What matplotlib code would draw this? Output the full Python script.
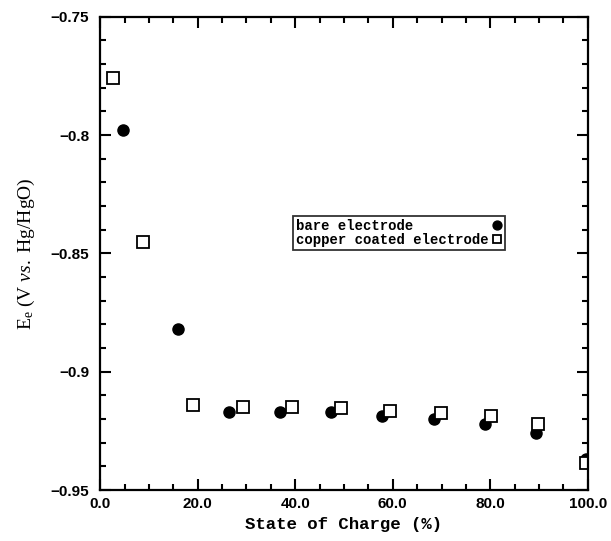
import numpy as np
import matplotlib
matplotlib.use("Agg")
from matplotlib import pyplot as plt
from matplotlib.ticker import MultipleLocator, FixedLocator

# state of charge (%) and equilibrium potential (V vs Hg/HgO)
bare_soc = [4.7, 16.0, 26.5, 36.9, 47.3, 57.8, 68.4, 78.9, 89.3, 99.6]
bare_e = [-0.798, -0.882, -0.917, -0.917, -0.917, -0.9185, -0.920, -0.922, -0.926, -0.937]
coated_soc = [2.7, 8.8, 19.1, 29.3, 39.3, 49.4, 59.4, 69.9, 80.1, 89.8, 99.7]
coated_e = [-0.7758, -0.845, -0.914, -0.915, -0.915, -0.9155, -0.9165, -0.9174, -0.9186, -0.922, -0.9385]

x_ticks = [0, 20, 40, 60, 80, 100]
x_labels = ["0.0", "20.0", "40.0", "60.0", "80.0", "100.0"]
y_ticks = [-0.95, -0.9, -0.85, -0.8, -0.75]
y_labels = ["\u22120.95", "\u22120.9", "\u22120.85", "\u22120.8", "\u22120.75"]
series_labels = ["bare electrode", "copper coated electrode"]

mono = "Liberation Mono"
sans = "Liberation Sans"
serif = "Liberation Serif"

plt.rcParams["mathtext.fontset"] = "custom"
plt.rcParams["mathtext.rm"] = serif
plt.rcParams["mathtext.it"] = serif + ":italic"

# pad legend labels so the monospaced text lines up on the left
w = max(len(s) for s in series_labels)
padded = [s + "\u00a0" * (w - len(s)) for s in series_labels]

fig = plt.figure(figsize=(6.11, 5.41), dpi=100)
ax = fig.add_axes([0.164, 0.094, 0.798, 0.875])

ax.plot(bare_soc, bare_e, "o", color="black", markersize=8, label=padded[0])
ax.plot(coated_soc, coated_e, "s", markerfacecolor="white", markeredgecolor="black",
        markeredgewidth=1.3, markersize=8, label=padded[1])

ax.set_xlim(0, 100)
ax.set_ylim(-0.95, -0.75)
ax.xaxis.set_major_locator(FixedLocator(x_ticks))
ax.xaxis.set_minor_locator(MultipleLocator(5))
ax.yaxis.set_major_locator(FixedLocator(y_ticks))
ax.yaxis.set_minor_locator(MultipleLocator(0.01))
ax.set_xticklabels(x_labels, fontfamily=sans, fontweight="bold", fontsize=11)
ax.set_yticklabels(y_labels, fontfamily=sans, fontweight="bold", fontsize=11)
ax.tick_params(which="both", direction="in", top=True, right=True, width=1.5)
ax.tick_params(which="major", length=8)
ax.tick_params(axis="x", which="major", pad=5)
ax.tick_params(axis="y", which="major", pad=8)
ax.tick_params(which="minor", length=4)
for s in ax.spines.values():
    s.set_linewidth(1.6)

ax.set_xlabel("State of Charge (%)", fontfamily=mono, fontweight="bold", fontsize=12.5, labelpad=4)
ax.set_ylabel(r"E$_{\mathrm{e}}$ (V $\mathit{vs.}$ Hg/HgO)", fontfamily=serif, fontsize=14, labelpad=10)

leg = ax.legend(loc="upper left", bbox_to_anchor=(0.395, 0.579), markerfirst=False,
                frameon=True, fancybox=False, handlelength=0.7, handletextpad=0.3,
                borderpad=0.2, labelspacing=0.0, borderaxespad=0, markerscale=0.8,
                prop={"family": mono, "weight": "bold", "size": 10})
leg.get_frame().set_edgecolor("black")
leg.get_frame().set_linewidth(1.3)

fig.savefig("out.png", dpi=100)
